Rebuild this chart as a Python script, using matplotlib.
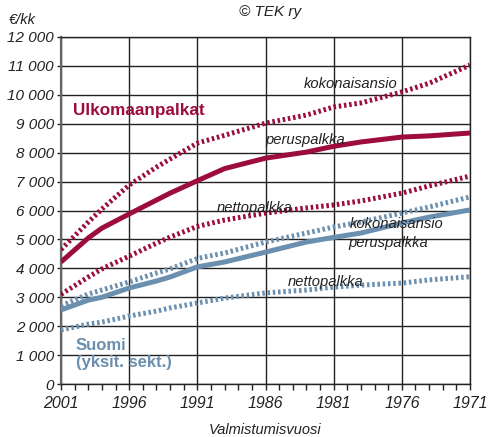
import matplotlib
matplotlib.use("Agg")
import matplotlib.pyplot as plt
from matplotlib.ticker import MultipleLocator, FuncFormatter

plt.rcParams['font.family'] = ['Liberation Sans', 'DejaVu Sans']

years = [2001, 1999, 1998, 1996, 1994, 1993, 1991, 1989, 1986, 1983, 1981, 1979, 1976, 1974, 1971]

ulko_kokonaisansio = [4650, 5600, 6050, 6880, 7500, 7780, 8330, 8600, 9020, 9300, 9580, 9720, 10100, 10400, 11030]
ulko_peruspalkka = [4220, 5050, 5390, 5880, 6360, 6600, 7030, 7450, 7810, 8020, 8220, 8370, 8540, 8580, 8680]
ulko_nettopalkka = [3100, 3700, 3980, 4420, 4870, 5080, 5450, 5670, 5910, 6090, 6190, 6330, 6600, 6850, 7190]

suomi_kokonaisansio = [2700, 3110, 3250, 3530, 3840, 3980, 4340, 4530, 4910, 5220, 5430, 5600, 5910, 6120, 6470]
suomi_peruspalkka = [2560, 2900, 3000, 3320, 3560, 3700, 4050, 4220, 4560, 4910, 5070, 5220, 5570, 5770, 6020]
suomi_nettopalkka = [1870, 2070, 2140, 2350, 2520, 2630, 2800, 2970, 3150, 3250, 3350, 3420, 3490, 3600, 3710]

xticks = [2001, 1996, 1991, 1986, 1981, 1976, 1971]

RED = '#9c0d3c'
BLUE = '#6b8fae'

fig = plt.figure(figsize=(4.88, 4.37), dpi=100)
ax = fig.add_axes([61/488, 1-384/437, (470-61)/488, (384-37)/437])

lw = 3.6
dot = (0, (0.5, 0.55))
ax.plot(years, suomi_nettopalkka, color=BLUE, lw=lw, ls=dot, dash_capstyle='butt', zorder=3)
ax.plot(years, suomi_kokonaisansio, color=BLUE, lw=lw, ls=dot, dash_capstyle='butt', zorder=3)
ax.plot(years, suomi_peruspalkka, color=BLUE, lw=lw, solid_capstyle='butt', zorder=3)
ax.plot(years, ulko_nettopalkka, color=RED, lw=lw, ls=dot, dash_capstyle='butt', zorder=3)
ax.plot(years, ulko_kokonaisansio, color=RED, lw=lw, ls=dot, dash_capstyle='butt', zorder=3)
ax.plot(years, ulko_peruspalkka, color=RED, lw=lw, solid_capstyle='butt', zorder=3)

ax.set_xlim(2001, 1971)
ax.set_ylim(0, 12000)
ax.set_xticks(xticks)
ax.set_xticklabels([str(y) for y in xticks])
ax.xaxis.set_minor_locator(MultipleLocator(1))
ax.yaxis.set_major_locator(MultipleLocator(1000))
ax.yaxis.set_major_formatter(FuncFormatter(lambda v, p: f"{int(v):,}".replace(',', ' ')))

ax.grid(True, which='major', color='#222222', lw=1.0, zorder=1)
for s in ax.spines.values():
    s.set_color('#222222')
    s.set_linewidth(1.0)
ax.spines['left'].set_color('#666666')
ax.spines['left'].set_linewidth(1.6)

ax.tick_params(axis='x', which='major', length=4, width=1, color='#222222', pad=5, labelsize=11.5)
ax.tick_params(axis='x', which='minor', length=4, width=1, color='#222222')
ax.tick_params(axis='y', which='major', length=3, width=1, color='#222222', pad=2, labelsize=11)
for lab in ax.get_xticklabels() + ax.get_yticklabels():
    lab.set_fontstyle('italic')
    lab.set_color('#222222')

ax.set_xlabel('Valmistumisvuosi', fontstyle='italic', fontsize=10.5, color='#222222', labelpad=8)

fig.text(270/488, 1-12/437, '© TEK ry', ha='center', va='center', fontstyle='italic', fontsize=11, color='#222222')
fig.text(9/488, 1-20/437, '€/kk', ha='left', va='center', fontstyle='italic', fontsize=10.5, color='#222222')

ax.text(2000.1, 9470, 'Ulkomaanpalkat', color=RED, fontweight='bold', fontsize=12.3, ha='left', va='center', zorder=4)
ax.text(1999.9, 1040, 'Suomi\n(yksit. sekt.)', color=BLUE, fontweight='bold', fontsize=12, ha='left', va='center', linespacing=1.12, zorder=4)

tkw = dict(fontstyle='italic', fontsize=10.6, color='#222222', ha='left', va='center', zorder=4)
ax.text(1983.2, 10380, 'kokonaisansio', **tkw)
ax.text(1986.0, 8450, 'peruspalkka', **tkw)
ax.text(1989.6, 6100, 'nettopalkka', **tkw)
ax.text(1979.8, 5530, 'kokonaisansio', **tkw)
ax.text(1979.9, 4880, 'peruspalkka', **tkw)
ax.text(1984.4, 3530, 'nettopalkka', **tkw)

fig.savefig('out.png', dpi=100)
